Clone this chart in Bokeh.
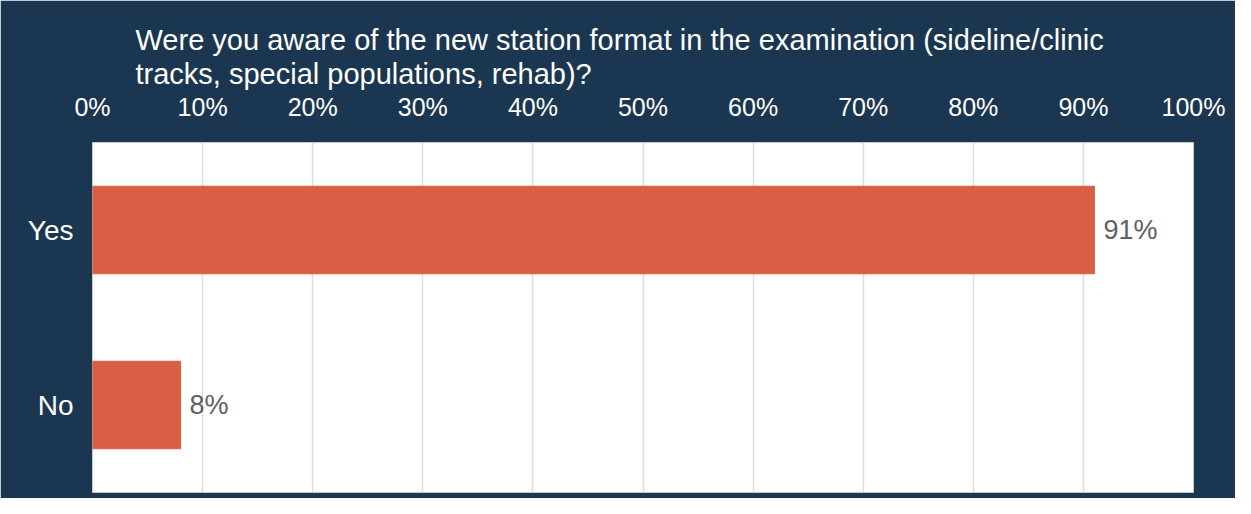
from bokeh.plotting import figure
from bokeh.models import ColumnDataSource, LabelSet, Title, NumeralTickFormatter, FixedTicker, Range1d, FactorRange
from bokeh.core.properties import value
from bokeh.embed import file_html
from bokeh.resources import INLINE

categories = ["Yes", "No"]
values = [0.91, 0.08]
value_labels = ["91%", "8%"]
title_lines = ["Were you aware of the new station format in the examination (sideline/clinic",
               "tracks, special populations, rehab)?"]

NAVY = "#1b3651"
BAR = "#d95f44"
FONT = "Liberation Sans"

src = ColumnDataSource(dict(cat=categories, val=values, lab=value_labels))

p = figure(width=1235, height=498, y_range=FactorRange(*categories[::-1]),
           x_range=Range1d(0, 1), x_axis_location="above",
           output_backend="svg", toolbar_location=None,
           min_border_left=92, min_border_right=42, min_border_bottom=6, min_border_top=142)
p.title = None
p.background_fill_color = "white"
p.border_fill_color = NAVY
p.outline_line_color = "#c8c8c8"

p.hbar(y="cat", right="val", left=0, height=0.5, source=src, color=BAR)

labels = LabelSet(x="val", y="cat", text="lab", source=src, x_offset=9,
                  text_baseline="middle", text_color="#606060",
                  text_font_size="27px", text_font=value(FONT))
p.add_layout(labels)

xa = p.xaxis[0]
xa.ticker = FixedTicker(ticks=[i / 10 for i in range(11)])
xa.formatter = NumeralTickFormatter(format="0%")
xa.axis_line_color = None
xa.major_tick_line_color = None
xa.minor_tick_line_color = None
xa.major_label_text_color = "white"
xa.major_label_text_font = FONT
xa.major_label_text_font_size = "25px"
xa.major_label_standoff = 16

ya = p.yaxis[0]
ya.axis_line_color = None
ya.major_tick_line_color = None
ya.major_label_text_color = "white"
ya.major_label_text_font = FONT
ya.major_label_text_font_size = "28px"
ya.major_label_standoff = 13

p.xgrid.grid_line_color = "#dcdcdc"
p.xgrid.grid_line_width = 1.5
p.ygrid.grid_line_color = None

p.add_layout(Title(text=title_lines[1], text_color="white", text_font=FONT,
                   text_font_size="29px", text_font_style="normal", offset=43, standoff=0), "above")
p.add_layout(Title(text=title_lines[0], text_color="white", text_font=FONT,
                   text_font_size="29px", text_font_style="normal", offset=43, standoff=0), "above")

open("out.html", "w").write(file_html(p, INLINE))
